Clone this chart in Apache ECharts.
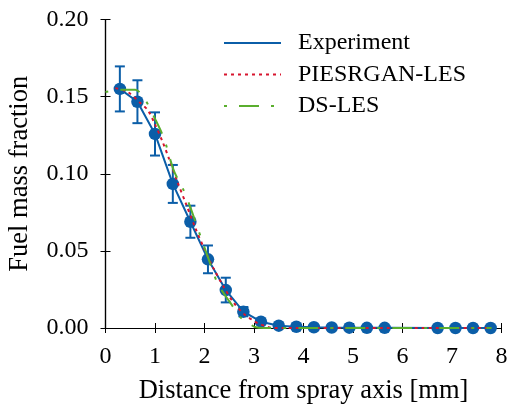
<!DOCTYPE html>
<html><head><meta charset="utf-8">
<script src="https://cdn.jsdelivr.net/npm/echarts@6/dist/echarts.min.js"></script>
<style>html,body{margin:0;padding:0;background:#fff}#c{width:508px;height:407px}</style>
</head><body><div id="c"></div>
<script>
const expX = [0.29,0.645,1.0,1.36,1.715,2.07,2.43,2.785,3.14,3.5,3.855,4.21,4.57,4.925,5.28,5.64,6.71,7.07,7.425,7.78];
const expY = [0.155,0.1467,0.1258,0.0934,0.0689,0.0445,0.0246,0.0106,0.0041,0.0015,0.0008,0.0005,0.0003,0.0002,0.0001,0.0001,0,0,0,0];
const expErr = [0.0146,0.0139,0.014,0.0123,0.0104,0.009,0.008,0.003,0.0012,0,0,0,0,0,0,0,0,0,0,0];
const ganX = [0.2,0.45,0.7,0.86,1.0,1.15,1.28,1.45,1.62,1.8,2.0,2.18,2.4,2.58,2.8,3.0,3.08,3.25,3.38,4.0,5.0,6.0,7.0,7.8];
const ganY = [0.1555,0.153,0.146,0.141,0.132,0.121,0.110,0.095,0.081,0.066,0.051,0.0388,0.026,0.0168,0.009,0.0045,0.003,0.001,0,0,0,0,0,0];
const dsX = [0,0.3,0.6,0.8,1.01,1.18,1.38,1.56,1.72,1.96,2.08,2.16,2.28,2.58,2.72,2.9,3.02,3.2,4.0,5.0,6.0,7.0,7.8];
const dsY = [0.153,0.1545,0.1545,0.148,0.135,0.123,0.102,0.0906,0.0777,0.0557,0.045,0.0375,0.028,0.0136,0.0071,0.003,0.0006,0,0,0,0,0,0];
const xTicks = [0,1,2,3,4,5,6,7,8];
const yTicks = [0,0.05,0.10,0.15,0.20];

const BLUE = '#0b5ea8', RED = '#d7152e', GREEN = '#5aae2e';
const FONT = 'Liberation Serif';
const zip = (a,b) => a.map((v,i)=>[v,b[i]]);
const errData = expX.map((x,i)=>[x, expY[i], expErr[i]]).filter(d=>d[2]>0);

const chart = echarts.init(document.getElementById('c'), null, {renderer:'canvas'});
const axisCommon = {
  axisLine:{show:true,lineStyle:{color:'#000',width:1.2}},
  axisTick:{show:true,inside:true,length:5,lineStyle:{color:'#000',width:1}},
  splitLine:{show:false}
};
chart.setOption({
  animation:false,
  grid:{left:105.5,right:6.5,top:19.5,bottom:79,containLabel:false,outerBoundsMode:'none'},
  legend:{
    orient:'vertical', left:223, top:31, padding:0, itemWidth:57, itemHeight:14, itemGap:7.5,
    itemStyle:{opacity:0},
    textStyle:{fontFamily:FONT,fontSize:24,color:'#000',lineHeight:24,padding:[0,0,0,12]},
    data:['Experiment','PIESRGAN-LES','DS-LES']
  },
  xAxis:[
    Object.assign({type:'value',min:0,max:8,interval:1,position:'bottom',
      name:'Distance from spray axis [mm]',nameLocation:'middle',nameGap:50,
      nameTextStyle:{fontFamily:FONT,fontSize:26.5,color:'#000'},
      axisLabel:{fontFamily:FONT,fontSize:24,color:'#000',margin:17,
        formatter:v=>xTicks.includes(v)?String(v):''}},axisCommon),
    Object.assign({type:'value',min:0,max:8,interval:1,position:'top',axisLabel:{show:false}},axisCommon)
  ],
  yAxis:[
    Object.assign({type:'value',min:0,max:0.2,interval:0.05,position:'left',
      name:'Fuel mass fraction',nameLocation:'middle',nameGap:72,
      nameTextStyle:{fontFamily:FONT,fontSize:26.5,color:'#000'},
      axisLabel:{fontFamily:FONT,fontSize:24,color:'#000',margin:17,
        formatter:v=>yTicks.some(t=>Math.abs(t-v)<1e-9)?v.toFixed(2):''}},axisCommon),
    Object.assign({type:'value',min:0,max:0.2,interval:0.05,position:'right',axisLabel:{show:false}},axisCommon)
  ],
  series:[
    {name:'Experiment',type:'line',data:zip(expX,expY),symbol:'none',
      lineStyle:{color:BLUE,width:2},itemStyle:{color:BLUE},z:2},
    {name:'expMarkers',type:'scatter',data:zip(expX,expY),symbol:'circle',symbolSize:12.5,
      itemStyle:{color:BLUE,opacity:1},z:3},
    {name:'expErr',type:'custom',z:4,
      renderItem:function(params,api){
        const x=api.value(0),y=api.value(1),e=api.value(2);
        const top=api.coord([x,y+e]), bot=api.coord([x,y-e]);
        const w=5;
        const style={stroke:BLUE,lineWidth:2};
        return {type:'group',children:[
          {type:'line',shape:{x1:top[0],y1:top[1],x2:bot[0],y2:bot[1]},style},
          {type:'line',shape:{x1:top[0]-w,y1:top[1],x2:top[0]+w,y2:top[1]},style},
          {type:'line',shape:{x1:bot[0]-w,y1:bot[1],x2:bot[0]+w,y2:bot[1]},style}
        ]};
      },
      data:errData},
    {name:'PIESRGAN-LES',type:'line',data:zip(ganX,ganY),symbol:'none',smooth:0.3,
      lineStyle:{color:RED,width:2,type:[3,4]},itemStyle:{color:RED},z:5},
    {name:'DS-LES',type:'line',data:zip(dsX,dsY),symbol:'none',smooth:0.3,
      lineStyle:{color:GREEN,width:2,type:[3,12,20,12]},itemStyle:{color:GREEN},z:6}
  ]
});
</script></body></html>
